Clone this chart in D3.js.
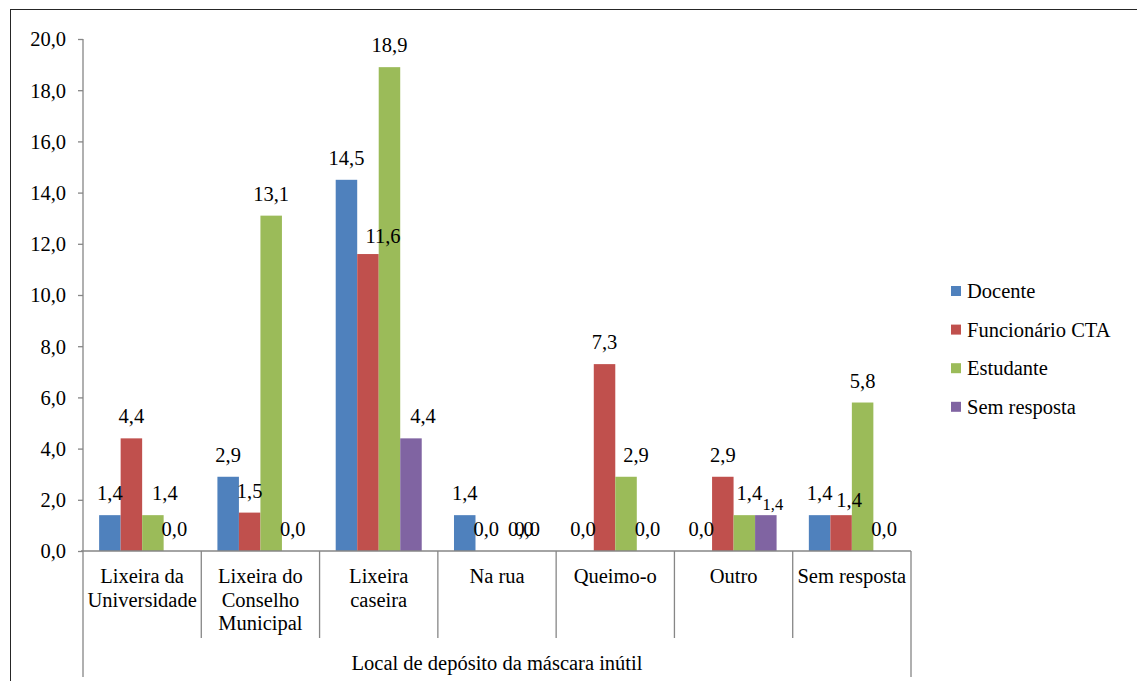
<!DOCTYPE html>
<html>
<head>
<meta charset="utf-8">
<script src="https://cdn.jsdelivr.net/npm/d3@7"></script>
<style>
  html, body { margin: 0; padding: 0; background: #fff; }
  svg { display: block; }
  svg text { font-family: "Liberation Serif", "DejaVu Serif", "Noto Serif", serif; }
</style>
</head>
<body>
<svg id="chart" width="1137" height="681"></svg>
<script>
// Categories (multi-line labels) and series
const categories = [
  ["Lixeira da", "Universidade"],
  ["Lixeira do", "Conselho", "Municipal"],
  ["Lixeira", "caseira"],
  ["Na rua"],
  ["Queimo-o"],
  ["Outro"],
  ["Sem resposta"]
];
const seriesNames = ["Docente", "Funcionário CTA", "Estudante", "Sem resposta"];
const docente      = [1.4, 2.9, 14.5, 1.4, 0.0, 0.0, 1.4];
const funcionario  = [4.4, 1.5, 11.6, 0.0, 7.3, 2.9, 1.4];
const estudante    = [1.4, 13.1, 18.9, 0.0, 2.9, 1.4, 5.8];
const semResposta  = [0.0, 0.0, 4.4, 0.0, 0.0, 1.4, 0.0];
const yTicks = [0, 2, 4, 6, 8, 10, 12, 14, 16, 18, 20];
const axisTitle = "Local de depósito da máscara inútil";

const seriesValues = [docente, funcionario, estudante, semResposta];
const colors = ["#4F81BD", "#C0504D", "#9BBB59", "#8064A2"];
const fmt = v => v.toFixed(1).replace(".", ",");

const FONT = 20.5;
const svg = d3.select("#chart");

// outer frame
svg.append("rect")
  .attr("x", 10.5).attr("y", 9.5)
  .attr("width", 1200).attr("height", 700)
  .attr("fill", "none").attr("stroke", "#262626").attr("stroke-width", 1);

const catKeys = categories.map(c => c.join(" "));
const x = d3.scaleBand().domain(catKeys).range([83, 911]).paddingInner(0).paddingOuter(0);
const xs = d3.scaleBand().domain(seriesNames).range([0, x.bandwidth()]).paddingInner(0).paddingOuter(0.75);
const y = d3.scaleLinear().domain([0, 20]).range([551, 39]);

const axisColor = "#868686";

// y axis
const yAxis = svg.append("g").attr("transform", "translate(83,0)")
  .call(d3.axisLeft(y).tickValues(yTicks).tickSize(5).tickPadding(12).tickFormat(fmt));
yAxis.attr("font-family", null).attr("font-size", FONT);
yAxis.select(".domain").attr("stroke", axisColor).attr("stroke-width", 1.3).attr("d", `M0,${y(20)}V${y(0)}`);
yAxis.selectAll(".tick line").attr("stroke", axisColor).attr("stroke-width", 1.3);
yAxis.selectAll(".tick text")
  .attr("font-size", FONT).attr("fill", "#000").attr("dy", "0.34em");

// bars
const barData = [];
seriesValues.forEach((vals, si) => {
  vals.forEach((v, ci) => barData.push({ si, ci, v }));
});

svg.append("g").selectAll("rect").data(barData).join("rect")
  .attr("x", d => x(catKeys[d.ci]) + xs(seriesNames[d.si]))
  .attr("y", d => y(d.v))
  .attr("width", xs.bandwidth())
  .attr("height", d => y(0) - y(d.v))
  .attr("fill", d => colors[d.si]);

// x axis line
svg.append("line")
  .attr("x1", 81).attr("x2", 911).attr("y1", 551).attr("y2", 551)
  .attr("stroke", axisColor).attr("stroke-width", 1.6);

// category dividers
const edges = catKeys.map(k => x(k)).concat([x.range()[1]]);
svg.append("g").selectAll("line").data(edges).join("line")
  .attr("x1", d => d).attr("x2", d => d)
  .attr("y1", 551)
  .attr("y2", (d, i) => (i === 0 || i === edges.length - 1) ? 677 : 638)
  .attr("stroke", axisColor).attr("stroke-width", 1.3);

// category labels
const catG = svg.append("g");
categories.forEach((lines, ci) => {
  const cx = x(catKeys[ci]) + x.bandwidth() / 2;
  lines.forEach((ln, li) => {
    catG.append("text")
      .attr("x", cx).attr("y", 583 + li * 23.5)
      .attr("text-anchor", "middle").attr("font-size", FONT)
      .text(ln);
  });
});

// axis title
svg.append("text")
  .attr("x", 497).attr("y", 670)
  .attr("text-anchor", "middle").attr("font-size", FONT)
  .text(axisTitle);

// value labels; a few are nudged aside where they would collide
const nudge = {
  "2-0": { dx: 12 },
  "3-2": { dx: 12 },
  "1-2": { dx: 15, dy: 4 },
  "2-3": { dx: 13 },
  "3-3": { dx: -2 },
  "2-4": { dx: 10 },
  "2-5": { dx: 5 },
  "3-5": { dx: 7, dy: 10, size: 16.5 },
  "1-6": { dx: 8, dy: 7 }
};
const nd = d => nudge[d.si + "-" + d.ci] || {};
svg.append("g").selectAll("text").data(barData).join("text")
  .attr("x", d => x(catKeys[d.ci]) + xs(seriesNames[d.si]) + xs.bandwidth() / 2 + (nd(d).dx || 0))
  .attr("y", d => y(d.v) - 15 + (nd(d).dy || 0))
  .attr("text-anchor", "middle")
  .attr("font-size", d => nd(d).size || FONT)
  .text(d => fmt(d.v));

// legend
const legend = svg.append("g");
seriesNames.forEach((name, i) => {
  const cy = 291 + i * 38.6;
  legend.append("rect")
    .attr("x", 951).attr("y", cy - 5).attr("width", 10).attr("height", 10)
    .attr("fill", colors[i]);
  legend.append("text")
    .attr("x", 967).attr("y", cy + 7)
    .attr("font-size", FONT)
    .text(name);
});
</script>
</body>
</html>
